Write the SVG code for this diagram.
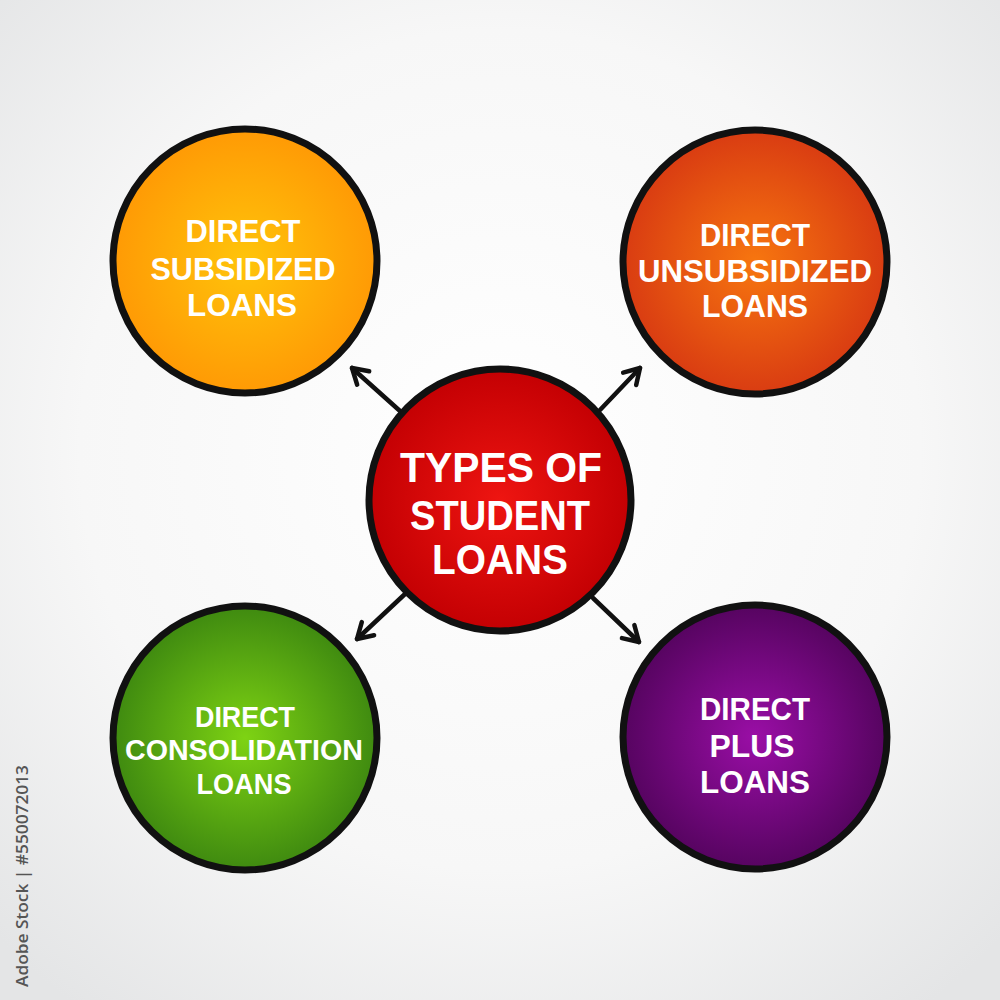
<svg xmlns="http://www.w3.org/2000/svg" width="1000" height="1000" viewBox="0 0 1000 1000">
<defs>
<radialGradient id="bg" cx="50%" cy="45%" r="70%"><stop offset="0" stop-color="#ffffff"/><stop offset="0.6" stop-color="#f7f7f7"/><stop offset="1" stop-color="#e4e5e6"/></radialGradient>
<radialGradient id="gOrange" cx="50%" cy="50%" r="50%"><stop offset="0" stop-color="#ffc40a"/><stop offset="1" stop-color="#ff9a05"/></radialGradient>
<radialGradient id="gRedOrange" cx="50%" cy="50%" r="50%"><stop offset="0" stop-color="#f7760f"/><stop offset="1" stop-color="#d93c12"/></radialGradient>
<radialGradient id="gRed" cx="50%" cy="50%" r="50%"><stop offset="0" stop-color="#ee1511"/><stop offset="1" stop-color="#c40003"/></radialGradient>
<radialGradient id="gGreen" cx="50%" cy="50%" r="50%"><stop offset="0" stop-color="#7ed313"/><stop offset="1" stop-color="#3f8a10"/></radialGradient>
<radialGradient id="gPurple" cx="50%" cy="50%" r="50%"><stop offset="0" stop-color="#9a0ea6"/><stop offset="1" stop-color="#560460"/></radialGradient>
<marker id="arr" viewBox="0 0 24 24" refX="20" refY="12" markerWidth="24" markerHeight="24" markerUnits="userSpaceOnUse" orient="auto">
<polyline points="5,3 20,12 5,21" fill="none" stroke="#111" stroke-width="4.5" stroke-linecap="round" stroke-linejoin="round"/>
</marker>
<style>
.c{stroke:#111;stroke-width:7}
.t{font-family:"Liberation Sans",Arial,sans-serif;font-weight:bold;fill:#fff;text-anchor:middle}
.ts{font-size:31px}
.tb{font-size:42px}
.ln{stroke:#111;stroke-width:4.5;stroke-linecap:round;fill:none}
</style>
</defs>
<rect width="1000" height="1000" fill="url(#bg)"/>
<g id="connectors">
<line class="ln" x1="400" y1="411" x2="352" y2="368" marker-end="url(#arr)"/>
<line class="ln" x1="600" y1="410" x2="640" y2="368" marker-end="url(#arr)"/>
<line class="ln" x1="405" y1="594" x2="357" y2="639" marker-end="url(#arr)"/>
<line class="ln" x1="593" y1="598" x2="639" y2="642" marker-end="url(#arr)"/>
</g>
<g id="center">
<circle class="c" cx="500" cy="500" r="131" fill="url(#gRed)"/>
<text class="t tb" x="501" y="482" textLength="202" lengthAdjust="spacingAndGlyphs">TYPES OF</text>
<text class="t tb" x="500" y="530" textLength="180" lengthAdjust="spacingAndGlyphs">STUDENT</text>
<text class="t tb" x="500" y="574" textLength="136" lengthAdjust="spacingAndGlyphs">LOANS</text>
</g>
<g id="subsidized">
<circle class="c" cx="245" cy="261" r="132" fill="url(#gOrange)"/>
<text class="t ts" x="243" y="242" textLength="115" lengthAdjust="spacingAndGlyphs">DIRECT</text>
<text class="t ts" x="243" y="280" textLength="185" lengthAdjust="spacingAndGlyphs">SUBSIDIZED</text>
<text class="t ts" x="242" y="316" textLength="110" lengthAdjust="spacingAndGlyphs">LOANS</text>
</g>
<g id="unsubsidized">
<circle class="c" cx="755" cy="262" r="132" fill="url(#gRedOrange)"/>
<text class="t ts" x="755" y="246" textLength="110" lengthAdjust="spacingAndGlyphs">DIRECT</text>
<text class="t ts" x="755" y="282" textLength="234" lengthAdjust="spacingAndGlyphs">UNSUBSIDIZED</text>
<text class="t ts" x="755" y="317" textLength="106" lengthAdjust="spacingAndGlyphs">LOANS</text>
</g>
<g id="consolidation">
<circle class="c" cx="245" cy="738" r="132" fill="url(#gGreen)"/>
<text class="t ts" x="245" y="727" style="font-size:29px" textLength="100" lengthAdjust="spacingAndGlyphs">DIRECT</text>
<text class="t ts" x="244" y="760" style="font-size:29px" textLength="238" lengthAdjust="spacingAndGlyphs">CONSOLIDATION</text>
<text class="t ts" x="244" y="794" style="font-size:29px" textLength="95" lengthAdjust="spacingAndGlyphs">LOANS</text>
</g>
<g id="plus">
<circle class="c" cx="755" cy="737" r="132" fill="url(#gPurple)"/>
<text class="t ts" x="755" y="720" textLength="110" lengthAdjust="spacingAndGlyphs">DIRECT</text>
<text class="t ts" x="752" y="757" textLength="85" lengthAdjust="spacingAndGlyphs">PLUS</text>
<text class="t ts" x="755" y="793" textLength="110" lengthAdjust="spacingAndGlyphs">LOANS</text>
</g>
<text x="0" y="0" transform="translate(28,987) rotate(-90)" style="font-family:'Open Sans','Liberation Sans',sans-serif;font-size:16px;font-weight:600;fill:#555" textLength="222" lengthAdjust="spacingAndGlyphs">Adobe Stock | #550072013</text>
</svg>
